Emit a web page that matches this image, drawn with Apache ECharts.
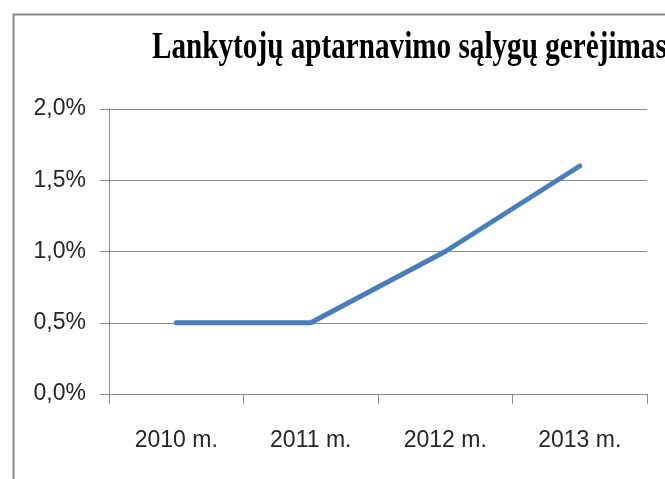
<!DOCTYPE html>
<html>
<head>
<meta charset="utf-8">
<script src="https://cdn.jsdelivr.net/npm/echarts@6/dist/echarts.min.js"></script>
<style>
  html, body { margin: 0; padding: 0; background: #fff; }
  #chart { width: 665px; height: 479px; }
</style>
</head>
<body>
<div id="chart"></div>
<script>
const titleText = 'Lankytojų aptarnavimo sąlygų gerėjimas'
const years = ['2010 m.', '2011 m.', '2012 m.', '2013 m.']
const values = [0.5, 0.5, 1.0, 1.6]   // %

const chart = echarts.init(document.getElementById('chart'), null, { renderer: 'canvas' })

const axisGray = '#8c8c8c'
const labelFont = "'Liberation Sans Narrow', 'Liberation Sans', sans-serif"

chart.setOption({
  backgroundColor: '#fff',
  animation: false,
  graphic: [
    {
      type: 'rect', left: 11, top: 12,
      shape: { width: 700, height: 500 },
      style: { fill: 'none', stroke: '#888', lineWidth: 2 }
    },
    {
      type: 'text', x: 152, y: 48, scaleX: 0.768,
      style: {
        text: titleText, fill: '#000',
        font: "bold 38px 'Liberation Serif', 'Times New Roman', serif",
        verticalAlign: 'middle', align: 'left'
      }
    }
  ],
  grid: { left: 109, right: 18, top: 109, bottom: 85 },
  xAxis: {
    type: 'category', data: years, boundaryGap: true,
    axisLine: { lineStyle: { color: axisGray, width: 1 } },
    axisTick: { show: true, length: 10, lineStyle: { color: axisGray } },
    axisLabel: { color: '#262626', fontSize: 23, fontFamily: labelFont, margin: 35 }
  },
  yAxis: {
    type: 'value', min: 0, max: 2, interval: 0.5,
    axisLine: { show: true, lineStyle: { color: axisGray, width: 1 } },
    axisTick: { show: true, length: 9, lineStyle: { color: axisGray } },
    splitLine: { lineStyle: { color: axisGray, width: 1 } },
    axisLabel: {
      color: '#262626', fontSize: 23, fontFamily: labelFont, margin: 23,
      formatter: v => v.toFixed(1).replace('.', ',') + '%'
    }
  },
  series: [
    {
      type: 'line', data: values, showSymbol: false, symbol: 'none',
      lineStyle: { color: '#4a7ebb', width: 5, cap: 'round' }
    }
  ]
})
</script>
</body>
</html>
